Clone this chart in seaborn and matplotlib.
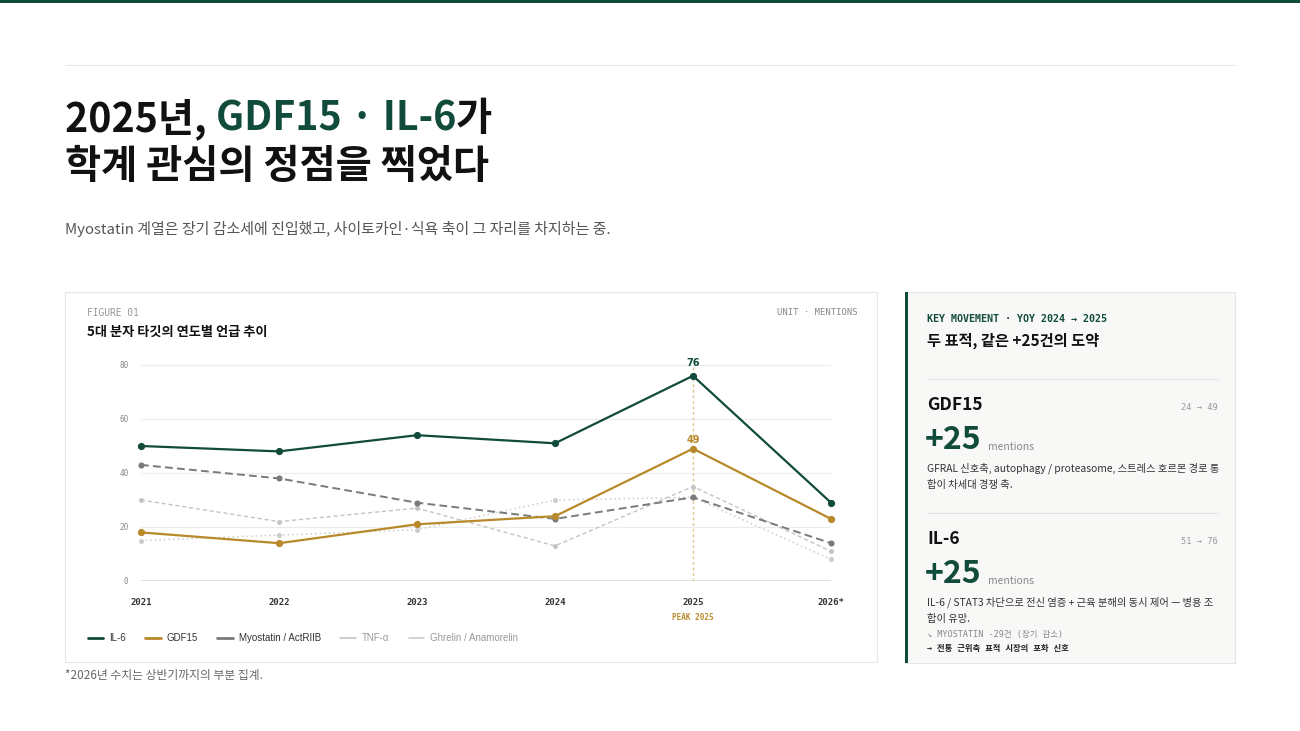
import matplotlib
matplotlib.use("Agg")
import matplotlib.pyplot as plt
from matplotlib.patches import Rectangle
from matplotlib.lines import Line2D
import seaborn as sns
import pandas as pd

## data
years = ['2021', '2022', '2023', '2024', '2025', '2026*']
il6 = [50, 48, 54, 51, 76, 29]
gdf15 = [18, 14, 21, 24, 49, 23]
myostatin = [43, 38, 29, 23, 31, 14]
tnf = [30, 22, 27, 13, 35, 11]
ghrelin = [15, 17, 19, 30, 31, 8]
series_names = ['IL-6', 'GDF15', 'Myostatin / ActRIIB', 'TNF-α', 'Ghrelin / Anamorelin']
y_ticks = [0, 20, 40, 60, 80]

GREEN = '#114b3b'
GOLD = '#b8892a'
KR = ['Noto Sans CJK KR', 'DejaVu Sans']
MONO = ['DejaVu Sans Mono', 'Noto Sans CJK KR']
NARROW = ['Liberation Sans Narrow', 'Liberation Sans', 'DejaVu Sans']

sns.set_theme(style="white")
plt.rcParams['font.family'] = KR

W, H = 1300, 731
fig = plt.figure(figsize=(13, 7.31), dpi=100)
fig.patch.set_facecolor('white')


def fx(px):
    return px / W


def fy(py):
    return 1 - py / H


def box(x0, y0, x1, y1, **kw):
    kw.setdefault('zorder', -1)
    fig.add_artist(Rectangle((fx(x0), fy(y1)), fx(x1) - fx(x0), fy(y0) - fy(y1),
                             transform=fig.transFigure, **kw))


def hline(x0, x1, y, col, lw=0.8):
    fig.add_artist(Line2D([fx(x0), fx(x1)], [fy(y), fy(y)], color=col, lw=lw,
                          transform=fig.transFigure))


def txt(x, y, s, **kw):
    kw.setdefault('va', 'center')
    return fig.text(fx(x), fy(y), s, **kw)


## page frame
box(0, 0, W, 3, fc=GREEN, ec='none')
hline(65, 1235, 65, '#e8e8e8')

## title with coloured middle part
renderer = fig.canvas.get_renderer()
x = 65
for part, col in [('2025년, ', '#111111'), ('GDF15 · IL-6', GREEN), ('가', '#111111')]:
    t = txt(x, 119, part, fontsize=28.3, fontweight='black', color=col)
    x += t.get_window_extent(renderer).width
txt(65, 166, '학계 관심의 정점을 찍었다', fontsize=28.3, fontweight='black', color='#111111')
txt(65, 229, 'Myostatin 계열은 장기 감소세에 진입했고, 사이토카인·식욕 축이 그 자리를 차지하는 중.',
    fontsize=10.8, color='#555555')

## chart card
box(65, 292, 877, 662, fc='white', ec='#e6e6e6', lw=0.8)
txt(87, 313, 'FIGURE 01', fontsize=6.9, family=MONO, color='#999999')
txt(858, 313, 'UNIT · MENTIONS', fontsize=6.4, family=MONO, color='#888888', ha='right')
txt(87, 332, '5대 분자 타깃의 연도별 언급 추이', fontsize=9.5, fontweight='bold', color='#111111')

ax = fig.add_axes([fx(141), fy(581), fx(831) - fx(141), fy(365) - fy(581)])
ax.set_facecolor('none')
ax.set_zorder(2)

xs = list(range(len(years)))
styles = [
    (il6, GREEN, None, 1.6, 5.2),
    (gdf15, GOLD, None, 1.6, 5.2),
    (myostatin, '#7a7a7a', (4, 2.2), 1.4, 4.4),
    (tnf, '#c4c4c4', (3, 2), 1.0, 3.6),
    (ghrelin, '#cccccc', (1, 2), 1.1, 3.6),
]

# 2025 peak marker line
ax.axvline(4, color='#dfc48e', lw=1, ls=(0, (2, 2)), zorder=1)
for name, (vals, col, dash, lw, ms) in reversed(list(zip(series_names, styles))):
    df = pd.DataFrame({'year': xs, 'value': vals})
    sns.lineplot(data=df, x='year', y='value', ax=ax, color=col, lw=lw, marker='o',
                 markersize=ms, markeredgewidth=0, clip_on=False, zorder=3,
                 **({} if dash is None else {'dashes': dash}))

ax.set_xlim(0, len(years) - 1)
ax.set_ylim(0, 80)
ax.set_yticks(y_ticks)
ax.set_xticks(xs)
ax.set_xticklabels(years)
ax.set_xlabel('')
ax.set_ylabel('')
for s in ax.spines.values():
    s.set_visible(False)
for v in y_ticks[1:]:
    ax.axhline(v, color='#ececec', lw=0.8, zorder=0)
ax.axhline(0, color='#dcdcdc', lw=1.2, zorder=0)
ax.tick_params(axis='y', length=0, pad=9, labelsize=5.5, labelcolor='#888888')
ax.tick_params(axis='x', length=0, pad=12, labelsize=6.5, labelcolor='#333333')
for lab in ax.get_yticklabels():
    lab.set_family(MONO)
for lab in ax.get_xticklabels():
    lab.set_family(MONO)
    lab.set_fontweight('bold')

ax.annotate(str(il6[4]), (4, il6[4]), xytext=(0, 9.4), textcoords='offset points',
            ha='center', va='center', fontsize=7, fontweight='bold', color=GREEN,
            family='DejaVu Sans')
ax.annotate(str(gdf15[4]), (4, gdf15[4]), xytext=(0, 6.6), textcoords='offset points',
            ha='center', va='center', fontsize=7, fontweight='bold', color=GOLD,
            family='DejaVu Sans')
ax.annotate('PEAK 2025', (4, 0), xycoords=('data', 'axes fraction'), xytext=(0, -26),
            textcoords='offset points', ha='center', va='center', fontsize=5.5,
            fontweight='bold', color=GOLD, family=MONO)

handles = [Line2D([], [], color=st[1], lw=2 if i < 3 else 1.2) for i, st in enumerate(styles)]
leg = ax.legend(handles, series_names, loc='center left', bbox_to_anchor=(fx(79), fy(638)),
                bbox_transform=fig.transFigure, ncol=5, frameon=False, fontsize=7,
                handlelength=1.6, handletextpad=0.6, columnspacing=2.0)
for i, t in enumerate(leg.get_texts()):
    t.set_family(NARROW)
    t.set_color('#333333' if i < 3 else '#999999')

txt(65, 676, '*2026년 수치는 상반기까지의 부분 집계.', fontsize=8.5, color='#666666')

## right panel
box(905, 292, 1235, 663, fc='#f8f8f7', ec='#e6e6e6', lw=0.8)
box(905, 292, 908, 663, fc=GREEN, ec='none')
txt(927, 319, 'KEY MOVEMENT · YOY 2024 → 2025', fontsize=7.2, family=MONO, color=GREEN,
    fontweight='bold')
txt(927, 341, '두 표적, 같은 +25건의 도약', fontsize=11, fontweight='bold', color='#111111')
hline(927, 1218, 379, '#e3e3e3')
hline(927, 1218, 513, '#e3e3e3')

cards = [
    ('GDF15', gdf15, 405, ['GFRAL 신호축, autophagy / proteasome, 스트레스 호르몬 경로 통',
                         '합이 차세대 경쟁 축.']),
    ('IL-6', il6, 539, ['IL-6 / STAT3 차단으로 전신 염증 + 근육 분해의 동시 제어 — 병용 조',
                        '합이 유망.']),
]
for name, vals, y0, lines in cards:
    txt(927, y0, name, fontsize=12.5, fontweight='bold', color='#111111')
    txt(1218, y0 + 3, '%d → %d' % (vals[3], vals[4]), fontsize=6.3, family=MONO,
        color='#999999', ha='right')
    txt(925, y0 + 35, '+%d' % (vals[4] - vals[3]), fontsize=23, fontweight='black',
        color=GREEN)
    txt(988, y0 + 42, 'mentions', fontsize=7.5, color='#888888')
    for k, line in enumerate(lines):
        txt(927, y0 + 63 + k * 17, line, fontsize=7.4, color='#333333')

txt(927, 635, '↘ MYOSTATIN -%d건 (장기 감소)' % (myostatin[0] - myostatin[-1]), fontsize=6.1,
    family=MONO, color='#888888')
txt(927, 648, '→ 전통 근위축 표적 시장의 포화 신호', fontsize=6.0, family=MONO,
    color='#222222', fontweight='bold')

fig.savefig('out.png', dpi=100, facecolor='white')
